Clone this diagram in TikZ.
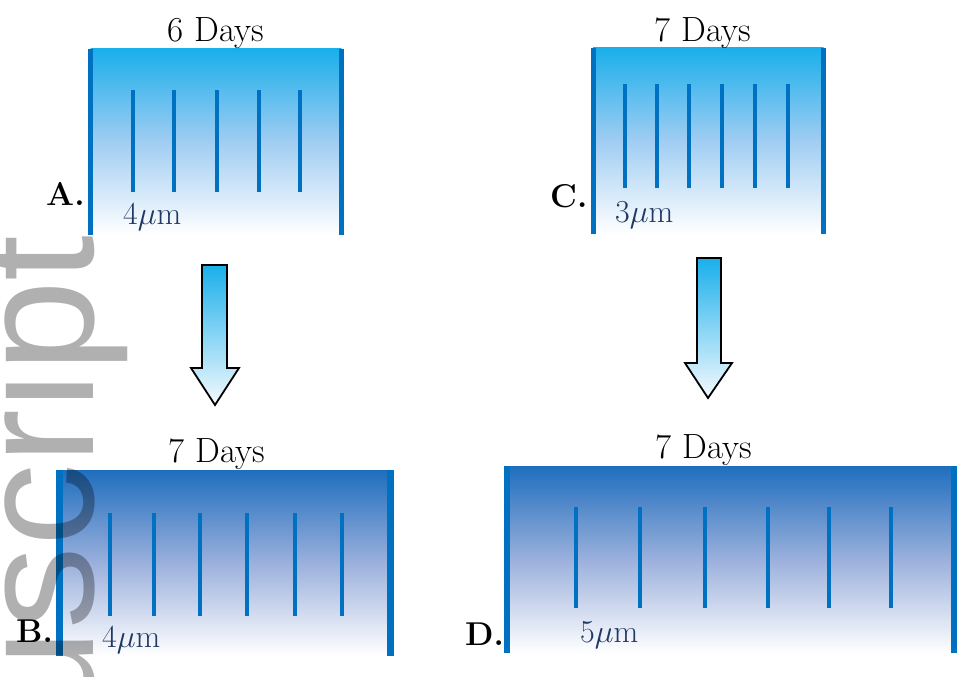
\documentclass[tikz,border=0pt]{standalone}
\usepackage{fix-cm}
\usepackage{fontspec}
\newfontfamily\wmfont{Liberation Sans}
\definecolor{barblue}{RGB}{0,112,192}
\definecolor{cyanblue}{RGB}{26,175,235}
\definecolor{midA}{RGB}{160,205,242}
\definecolor{deepblue}{RGB}{31,110,190}
\definecolor{midB}{RGB}{155,176,220}
\definecolor{navy}{RGB}{31,56,100}
\definecolor{arrowlow}{RGB}{245,250,254}
\begin{document}
\begin{tikzpicture}[x=1pt,y=-1pt,
  bar/.style={line width=5pt, color=barblue},
  bbar/.style={line width=6.5pt, color=barblue},
  rib/.style={line width=3.3pt, color=barblue},
  days/.style={font=\fontsize{35}{40}\selectfont, anchor=base, inner sep=0},
  lab/.style={font=\bfseries\fontsize{33}{40}\selectfont, anchor=base west, inner sep=0},
  um/.style={font=\fontsize{32}{36}\selectfont, text=navy, anchor=base west, inner sep=0},
  topfill/.style={top color=cyanblue, bottom color=white, middle color=midA, draw=none},
  botfill/.style={top color=deepblue, bottom color=white, middle color=midB, draw=none},
  arrowsh/.style={draw=black, line width=1.8pt, line join=miter, top color=cyanblue, bottom color=arrowlow}]
\useasboundingbox (0,0) rectangle (964,677);

% ---- Panel A ----
\fill[topfill] (90.5,49) rectangle (341.5,235);
\draw[bar] (90.5,49) -- (90.5,235);
\draw[bar] (341.5,49) -- (341.5,235);
\foreach \x in {133,174,217,259,300} \draw[rib] (\x,90) -- (\x,192);
\node[days] (tA) at (216,42) {6 Days};
\node[lab] (lA) at (46,205) {A.};
\node[um] (uA) at (123,224) {4$\mu$m};

% ---- Panel C ----
\fill[topfill] (593,48) rectangle (823.5,234);
\draw[bar] (593,48) -- (593,234);
\draw[bar] (823.5,48) -- (823.5,234);
\foreach \x in {625,657,689,722,755,788} \draw[rib] (\x,84) -- (\x,188);
\node[days] (tC) at (703,42) {7 Days};
\node[lab] (lC) at (550,207) {C.};
\node[um] (uC) at (615,222) {3$\mu$m};

% ---- Panel B ----
\fill[botfill] (59.5,470) rectangle (390.5,656);
\draw[bbar] (59.5,470) -- (59.5,656);
\draw[bbar] (390.5,470) -- (390.5,656);
\foreach \x in {110,154,200,247,295,342} \draw[rib] (\x,513) -- (\x,616);
\node[days] (tB) at (217,462) {7 Days};
\node[lab] (lB) at (16,642) {B.};
\node[um] (uB) at (102,647) {4$\mu$m};

% ---- Panel D ----
\fill[botfill] (507,466) rectangle (954,653);
\draw[bbar] (507,466) -- (507,653);
\draw[bbar] (954,466) -- (954,653);
\foreach \x in {576,640,705,768,829,891} \draw[rib] (\x,507) -- (\x,608);
\node[days] (tD) at (704,458) {7 Days};
\node[lab] (lD) at (465,645) {D.};
\node[um] (uD) at (580,642) {5$\mu$m};

% ---- Arrows ----
\draw[arrowsh] (202,265) -- (227,265) -- (227,368) -- (239,368) -- (215,405) -- (191,368) -- (202,368) -- cycle;
\draw[arrowsh] (697,258) -- (721,258) -- (721,363) -- (732,363) -- (708,398) -- (685,363) -- (697,363) -- cycle;

% ---- Watermark ----
\begin{scope}
\clip (0,0) rectangle (964,677);
\node[rotate=90, anchor=base east, inner sep=0, text=black, text opacity=0.31,
      font=\wmfont\fontsize{165}{165}\selectfont] (wm) at (93,235) {uscript};
\end{scope}
\end{tikzpicture}
\end{document}
